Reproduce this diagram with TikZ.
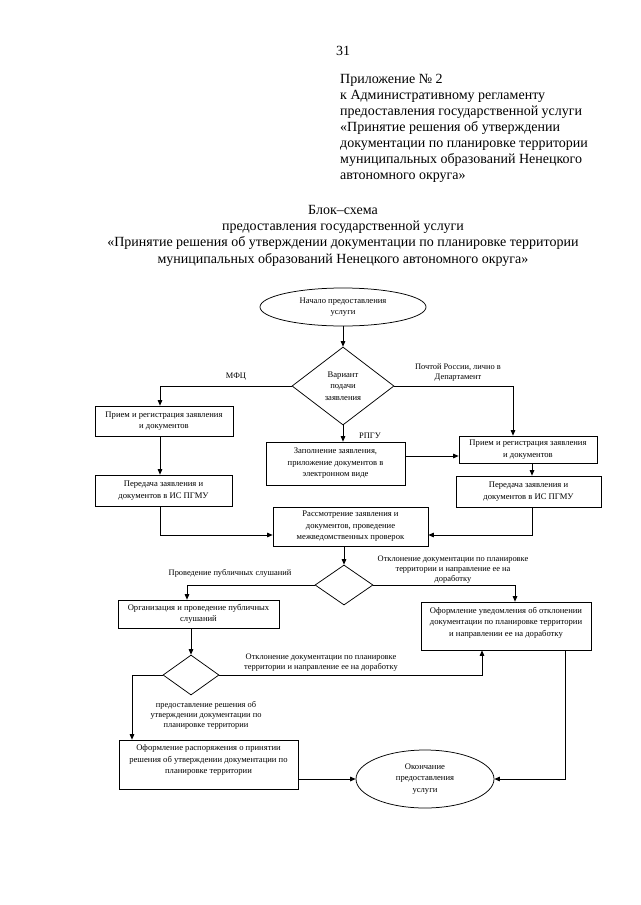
\documentclass[tikz,border=0pt]{standalone}
\usepackage{fontspec}
\setmainfont{Liberation Serif}
\usetikzlibrary{shapes.geometric,arrows.meta,calc}
\begin{document}
\begin{tikzpicture}[x=1pt,y=-1pt,
  fc/.style={font=\fontsize{8.6}{11.5}\selectfont},
  box/.style={draw,line width=0.75pt,rectangle,align=center,inner sep=1pt,fc},
  oval/.style={draw,line width=0.75pt,ellipse,align=center,inner sep=0pt,fc},
  dia/.style={draw,line width=0.75pt,diamond,align=center,inner sep=0pt,fc},
  arr/.style={line width=0.75pt,-{Triangle[length=5.5pt,width=4.6pt]}},
  lbl/.style={align=center,inner sep=0pt,font=\fontsize{8.4}{10}\selectfont},
  hd/.style={font=\fontsize{14}{16}\selectfont,inner sep=0pt}]
\useasboundingbox[fill=white] (0,0) rectangle (640,905);

% header
\node[hd,anchor=base] (pg) at (343,55) {31};
\node[hd,anchor=north west,align=left] (app) at (340,74.5) {Приложение № 2\\к Административному регламенту\\предоставления государственной услуги\\«Принятие решения об утверждении\\документации по планировке территории\\муниципальных образований Ненецкого\\автономного округа»};
\node[hd,anchor=north,align=center,font=\fontsize{14}{16.3}\selectfont] (title) at (343,205) {Блок–схема\\предоставления государственной услуги\\«Принятие решения об утверждении документации по планировке территории\\муниципальных образований Ненецкого автономного округа»};

% nodes
\node[oval,minimum width=166,minimum height=38] (start) at (343,307) {Начало предоставления\\услуги};
\node[dia,minimum width=102,minimum height=78] (d1) at (343,386) {Вариант\\подачи\\заявления};
\node[box,minimum width=138,minimum height=30] (l1) at (164,421) {Прием и регистрация заявления\\и документов};
\node[box,minimum width=137,minimum height=31] (l2) at (163.5,490.5) {Передача заявления и\\документов в ИС ПГМУ};
\node[box,minimum width=139,minimum height=43] (rp) at (335.5,463.5) {Заполнение заявления,\\приложение документов в\\электронном виде};
\node[box,minimum width=138,minimum height=27] (r1) at (528,449.5) {Прием и регистрация заявления\\и документов};
\node[box,minimum width=145,minimum height=31] (r2) at (528.5,491.5) {Передача заявления и\\документов в ИС ПГМУ};
\node[box,minimum width=155,minimum height=39] (rev) at (350.5,526.5) {Рассмотрение заявления и\\документов, проведение\\межведомственных проверок};
\node[dia,minimum width=58,minimum height=40] (d2) at (344,585) {};
\node[box,minimum width=161,minimum height=28] (org) at (198.5,614) {Организация и проведение публичных\\слушаний};
\node[box,minimum width=170,minimum height=48,text depth=9pt] (nt) at (506,626) {Оформление уведомления об отклонении\\документации по планировке территории\\и направлении ее на доработку};
\node[dia,minimum width=56,minimum height=40] (d3) at (191,675) {};
\node[box,minimum width=179,minimum height=49,text depth=10pt] (ord) at (208.5,764.5) {Оформление распоряжения о принятии\\решения об утверждении документации по\\планировке территории};
\node[oval,minimum width=138,minimum height=58] (fin) at (425,779) {Окончание\\предоставления\\услуги};

% connectors
\draw[arr] (start.south) -- (d1.north);
\draw[arr] (d1.west) -| ([xshift=-4pt]l1.north);
\draw[arr] ([xshift=-4pt]l1.south) -- ([xshift=-3.5pt]l2.north);
\draw[arr] ([xshift=-3.5pt]l2.south) |- ([yshift=-8.5pt]rev.west);
\draw[arr] (d1.south) -- (d1.south |- rp.north);
\draw[arr] (d1.east) -| ([xshift=-15pt]r1.north);
\draw[arr] ([yshift=7.5pt]rp.east) -- ([yshift=7.5pt]rp.east -| r1.west);
\draw[arr] ([xshift=4pt]r1.south) -- ([xshift=4pt]r1.south |- r2.north);
\draw[arr] ([xshift=3.5pt]r2.south) |- ([yshift=-8.5pt]rev.east);
\draw[arr] (d2.north |- rev.south) -- (d2.north);
\draw[arr] (d2.west) -| ([xshift=-11.5pt]org.north);
\draw[arr] (d2.east) -| ([xshift=9pt]nt.north);
\draw[arr] (d3.north |- org.south) -- (d3.north);
\draw[arr] (d3.east) -| ([xshift=-24pt]nt.south);
\draw[arr] (d3.west) -| ([xshift=-76.5pt]ord.north);
\draw[arr] (fin.west -| ord.east) -- (fin.west);
\draw[arr] ([xshift=59pt]nt.south) |- (fin.east);

% labels
\node[lbl] (lmfc) at (236,377) {МФЦ};
\node[lbl] (lpost) at (458,372.5) {Почтой России, лично в\\Департамент};
\node[lbl] (lrpgu) at (370,436) {РПГУ};
\node[lbl] (lpub) at (230,573.5) {Проведение публичных слушаний};
\node[lbl] (lrej1) at (453,569.5) {Отклонение документации по планировке\\территории и направление ее на\\доработку};
\node[lbl] (lrej2) at (321,663) {Отклонение документации по планировке\\территории и направление ее на доработку};
\node[lbl] (ldec) at (206,715) {предоставление решения об\\утверждении документации по\\планировке территории};
\end{tikzpicture}
\end{document}
